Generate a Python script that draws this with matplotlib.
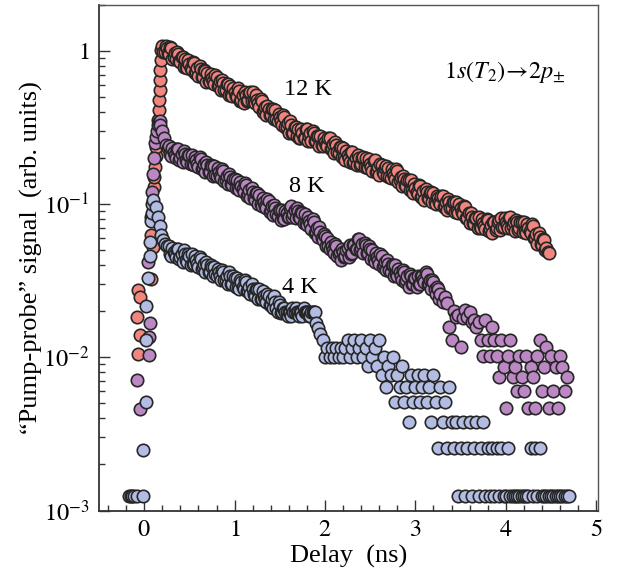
import numpy as np
import matplotlib
matplotlib.use("Agg")
import matplotlib.pyplot as plt
from matplotlib.ticker import FuncFormatter, LogLocator, MultipleLocator, FixedLocator, NullFormatter

plt.rcParams['font.family'] = ['Liberation Serif', 'DejaVu Serif']
plt.rcParams['mathtext.fontset'] = 'stix'

# ---------------- data ----------------
# rising edge, explicit points (delay in ns, signal in arb. units)
rise_delay_12K = [-0.075, -0.07, -0.065, -0.05, -0.045, 0.08, 0.08, 0.10, 0.09, 0.10,
                  0.11, 0.11, 0.12, 0.125, 0.13, 0.14, 0.15, 0.155, 0.16, 0.165,
                  0.17, 0.175, 0.18, 0.185, 0.19]
rise_signal_12K = [0.0183, 0.0105, 0.0274, 0.0139, 0.0249, 0.0327, 0.0627, 0.0525, 0.08, 0.10,
                   0.13, 0.15, 0.175, 0.205, 0.235, 0.27, 0.305, 0.354, 0.411, 0.478,
                   0.556, 0.646, 0.751, 0.873, 1.015]

rise_delay_8K = [-0.08, -0.045, 0.045, 0.05, 0.055, 0.06, 0.07, 0.09, 0.10, 0.11,
                 0.12, 0.13, 0.14, 0.15, 0.16, 0.17, 0.18, 0.20, 0.22, 0.24, 0.26]
rise_signal_8K = [0.0071, 0.0046, 0.042, 0.0135, 0.0103, 0.0167, 0.083, 0.12, 0.158, 0.20,
                  0.25, 0.275, 0.30, 0.33, 0.345, 0.35, 0.33, 0.30, 0.27, 0.245, 0.232]

rise_delay_4K = [-0.17, -0.15, -0.13, -0.11, -0.08, -0.015, -0.01, 0.015, 0.025, 0.025,
                 0.045, 0.06, 0.06, 0.08, 0.085, 0.09, 0.10, 0.13, 0.15, 0.17,
                 0.19, 0.21, 0.23, 0.25]
rise_signal_4K = [0.00125, 0.00125, 0.00125, 0.00125, 0.00125, 0.00125, 0.0025, 0.0051, 0.0129, 0.0218,
                  0.033, 0.046, 0.057, 0.078, 0.087, 0.10, 0.106, 0.096, 0.083, 0.072,
                  0.063, 0.058, 0.055, 0.053]

# decay part: scan A sampled every decay_step ns from decay_start,
# scan B (interleaved) sampled every decay_step ns from decay_start + decay_step/2
decay_step = 0.025
decay_start_12K = 0.20
decay_signal_12K = [
    1.08, 0.99, 1.04, 0.95, 1.04, 0.92, 0.89, 0.95, 0.85, 0.91,
    0.89, 0.77, 0.82, 0.75, 0.83, 0.73, 0.69, 0.76, 0.68, 0.74,
    0.72, 0.63, 0.67, 0.61, 0.68, 0.60, 0.56, 0.62, 0.56, 0.61,
    0.59, 0.51, 0.54, 0.50, 0.55, 0.48, 0.46, 0.52, 0.48, 0.54,
    0.54, 0.46, 0.48, 0.43, 0.47, 0.41, 0.38, 0.42, 0.38, 0.42,
    0.41, 0.35, 0.37, 0.33, 0.37, 0.32, 0.29, 0.33, 0.29, 0.32,
    0.31, 0.27, 0.29, 0.27, 0.31, 0.28, 0.26, 0.29, 0.26, 0.28,
    0.28, 0.24, 0.255, 0.24, 0.27, 0.233, 0.216, 0.242, 0.216, 0.235,
    0.232, 0.195, 0.209, 0.19, 0.22, 0.189, 0.179, 0.20, 0.182, 0.203,
    0.20, 0.172, 0.184, 0.166, 0.193, 0.165, 0.156, 0.179, 0.158, 0.177,
    0.173, 0.149, 0.161, 0.147, 0.165, 0.143, 0.132, 0.147, 0.132, 0.143,
    0.143, 0.119, 0.128, 0.117, 0.132, 0.114, 0.107, 0.121, 0.108, 0.12,
    0.119, 0.10, 0.109, 0.10, 0.113, 0.098, 0.092, 0.104, 0.094, 0.104,
    0.104, 0.087, 0.094, 0.086, 0.096, 0.081, 0.075, 0.083, 0.074, 0.081,
    0.082, 0.07, 0.075, 0.069, 0.079, 0.069, 0.065, 0.076, 0.07, 0.079,
    0.081, 0.071, 0.077, 0.07, 0.083, 0.072, 0.067, 0.076, 0.07, 0.077,
    0.077, 0.065, 0.07, 0.065, 0.072, 0.06, 0.055, 0.061, 0.054, 0.058,
    0.052, 0.048]
decay_signal_12K_b = [
    0.98, 1.08, 0.97, 1.07, 0.89, 0.97, 0.99, 0.86, 0.92, 0.79,
    0.79, 0.87, 0.78, 0.85, 0.72, 0.77, 0.80, 0.68, 0.75, 0.63,
    0.64, 0.71, 0.64, 0.70, 0.59, 0.64, 0.65, 0.56, 0.61, 0.52,
    0.52, 0.57, 0.51, 0.57, 0.47, 0.52, 0.54, 0.47, 0.53, 0.47,
    0.47, 0.52, 0.46, 0.49, 0.40, 0.43, 0.44, 0.38, 0.42, 0.36,
    0.36, 0.39, 0.35, 0.38, 0.32, 0.34, 0.35, 0.29, 0.32, 0.28,
    0.27, 0.31, 0.27, 0.31, 0.26, 0.29, 0.30, 0.26, 0.28, 0.24,
    0.245, 0.27, 0.243, 0.27, 0.228, 0.247, 0.254, 0.219, 0.236, 0.202,
    0.202, 0.223, 0.199, 0.218, 0.186, 0.201, 0.211, 0.181, 0.20, 0.175,
    0.174, 0.196, 0.175, 0.191, 0.163, 0.175, 0.184, 0.162, 0.173, 0.152,
    0.15, 0.17, 0.153, 0.169, 0.14, 0.151, 0.154, 0.133, 0.144, 0.123,
    0.124, 0.136, 0.121, 0.134, 0.112, 0.122, 0.125, 0.109, 0.119, 0.103,
    0.103, 0.114, 0.104, 0.114, 0.096, 0.104, 0.108, 0.094, 0.103, 0.089,
    0.09, 0.10, 0.089, 0.098, 0.081, 0.087, 0.087, 0.075, 0.081, 0.07,
    0.071, 0.08, 0.072, 0.08, 0.067, 0.073, 0.077, 0.068, 0.077, 0.068,
    0.071, 0.081, 0.073, 0.081, 0.07, 0.076, 0.079, 0.068, 0.077, 0.066,
    0.067, 0.074, 0.067, 0.074, 0.06, 0.064, 0.065, 0.055, 0.059, 0.05,
    0.049]

decay_start_8K = 0.275
decay_signal_8K = [
    0.24, 0.207, 0.22, 0.20, 0.228, 0.20, 0.19, 0.212, 0.19, 0.21,
    0.21, 0.18, 0.193, 0.176, 0.198, 0.172, 0.162, 0.181, 0.162, 0.177,
    0.177, 0.152, 0.163, 0.148, 0.166, 0.144, 0.135, 0.15, 0.134, 0.147,
    0.145, 0.124, 0.132, 0.12, 0.134, 0.116, 0.109, 0.121, 0.107, 0.118,
    0.115, 0.098, 0.104, 0.094, 0.105, 0.091, 0.085, 0.095, 0.084, 0.092,
    0.092, 0.08, 0.088, 0.083, 0.097, 0.086, 0.081, 0.09, 0.081, 0.088,
    0.086, 0.073, 0.078, 0.069, 0.076, 0.066, 0.061, 0.066, 0.058, 0.062,
    0.06, 0.051, 0.053, 0.048, 0.053, 0.047, 0.043, 0.049, 0.046, 0.052,
    0.054, 0.048, 0.054, 0.051, 0.059, 0.052, 0.048, 0.054, 0.048, 0.051,
    0.05, 0.042, 0.045, 0.041, 0.046, 0.04, 0.037, 0.041, 0.036, 0.04,
    0.04, 0.034, 0.036, 0.032, 0.036, 0.032, 0.029, 0.034, 0.03, 0.033,
    0.034, 0.03, 0.034, 0.031, 0.035, 0.03, 0.028, 0.031, 0.026, 0.028,
    0.026, 0.023, 0.0249, 0.0225, 0.0158, 0.0129, 0.020, 0.0183, 0.019, 0.0117,
    0.018, 0.0203, 0.0183, 0.0198, 0.0171, 0.0175, 0.0158, 0.0171, 0.0129, 0.0102,
    0.0175, 0.0129, 0.0102, 0.0158, 0.0129, 0.0102, 0.0074, 0.0129, 0.0087, 0.0047,
    0.0102, 0.0129, 0.0074, 0.0087, 0.0060, 0.0102, 0.0074, 0.0060, 0.0102, 0.0047,
    0.0087, 0.0074, 0.0047, 0.0102, 0.0129, 0.0060, 0.0087, 0.0117, 0.0047, 0.0102,
    0.0060, 0.0087, 0.0047, 0.0102, 0.0087, 0.0060, 0.0074]
decay_signal_8K_b = [
    0.212, 0.233, 0.209, 0.231, 0.195, 0.213, 0.221, 0.193, 0.21, 0.182,
    0.184, 0.204, 0.183, 0.202, 0.169, 0.183, 0.189, 0.163, 0.179, 0.154,
    0.155, 0.172, 0.154, 0.169, 0.141, 0.153, 0.158, 0.136, 0.147, 0.127,
    0.127, 0.14, 0.125, 0.137, 0.114, 0.124, 0.127, 0.109, 0.118, 0.101,
    0.101, 0.11, 0.098, 0.108, 0.089, 0.097, 0.099, 0.086, 0.092, 0.079,
    0.081, 0.09, 0.083, 0.095, 0.083, 0.092, 0.095, 0.082, 0.089, 0.075,
    0.075, 0.083, 0.074, 0.08, 0.065, 0.07, 0.071, 0.06, 0.064, 0.053,
    0.053, 0.057, 0.05, 0.055, 0.046, 0.049, 0.051, 0.045, 0.05, 0.045,
    0.047, 0.054, 0.051, 0.059, 0.05, 0.055, 0.056, 0.048, 0.053, 0.044,
    0.044, 0.048, 0.043, 0.047, 0.039, 0.042, 0.043, 0.037, 0.04, 0.034,
    0.035, 0.038, 0.034, 0.037, 0.031, 0.034, 0.035, 0.03, 0.033, 0.029,
    0.03, 0.034, 0.032, 0.036, 0.03, 0.032, 0.032, 0.028, 0.029, 0.024]

decay_start_4K = 0.275
decay_signal_4K = [
    0.053, 0.046, 0.049, 0.045, 0.051, 0.045, 0.042, 0.047, 0.042, 0.046,
    0.047, 0.041, 0.043, 0.039, 0.044, 0.039, 0.036, 0.04, 0.036, 0.039,
    0.039, 0.034, 0.036, 0.032, 0.036, 0.032, 0.03, 0.034, 0.03, 0.033,
    0.033, 0.028, 0.031, 0.028, 0.031, 0.027, 0.026, 0.028, 0.025, 0.028,
    0.028, 0.024, 0.025, 0.023, 0.025, 0.022, 0.021, 0.023, 0.0198, 0.022,
    0.0198, 0.021, 0.0198, 0.0198, 0.0186, 0.0198, 0.021, 0.0198, 0.0198, 0.0186,
    0.0198, 0.0198, 0.0186, 0.0198, 0.0198, 0.0167, 0.0155, 0.0143, 0.013, 0.0101,
    0.0115, 0.0101, 0.0115, 0.0101, 0.0115, 0.0101, 0.0115, 0.0101, 0.0115, 0.013,
    0.0101, 0.0115, 0.013, 0.0101, 0.0115, 0.013, 0.0101, 0.0115, 0.0088, 0.013,
    0.0101, 0.0115, 0.0088, 0.013, 0.0077, 0.0101, 0.0064, 0.0088, 0.0077, 0.0101,
    0.0051, 0.0077, 0.0064, 0.0088, 0.0051, 0.0064, 0.0038, 0.0077, 0.0051, 0.0064,
    0.0077, 0.0051, 0.0064, 0.0077, 0.0051, 0.0064, 0.0038, 0.0077, 0.0051, 0.00255,
    0.0064, 0.0038, 0.0051, 0.00255, 0.0064, 0.0038, 0.00255, 0.0038, 0.00125, 0.00255,
    0.0038, 0.00125, 0.00255, 0.0038, 0.00125, 0.00255, 0.0038, 0.00125, 0.00255, 0.0038,
    0.00125, 0.00255, 0.00125, 0.00255, 0.00125, 0.00255, 0.00125, 0.00255, 0.00125, 0.00125,
    0.00255, 0.00125, 0.00125, 0.00125, 0.00125, 0.00125, 0.00125, 0.00125, 0.00125, 0.00125,
    0.00255, 0.00125, 0.00255, 0.00125, 0.00255, 0.00125, 0.00125, 0.00125, 0.00125, 0.00125,
    0.00125, 0.00125, 0.00125, 0.00125, 0.00125, 0.00125, 0.00125, 0.00125]
decay_signal_4K_b = [
    0.047, 0.052, 0.047, 0.051, 0.044, 0.047, 0.05, 0.043, 0.047, 0.04,
    0.041, 0.046, 0.041, 0.045, 0.038, 0.041, 0.042, 0.036, 0.04, 0.034,
    0.035, 0.038, 0.034, 0.037, 0.032, 0.034, 0.036, 0.03, 0.034, 0.029,
    0.029, 0.032, 0.029, 0.032, 0.027, 0.029, 0.03, 0.026, 0.028, 0.024,
    0.024, 0.027, 0.024, 0.026, 0.022, 0.024, 0.025, 0.021, 0.023, 0.0195,
    0.021, 0.0198, 0.0186, 0.0198, 0.021, 0.0198, 0.0198, 0.0186, 0.0198, 0.021,
    0.0198, 0.0198, 0.0186, 0.0198, 0.0198]

series_labels = ['12 K', '8 K', '4 K']
series_colors = ['#f2867f', '#bb88c4', '#b3bde4']
label_pos = [(1.81, 0.56), (1.80, 0.131), (1.72, 0.0287)]
transition_label = r'$1s(T_2)\!\rightarrow\!2p_{\pm}$'
x_ticks = [0, 1, 2, 3, 4, 5]

# ---------------- figure ----------------
fig = plt.figure(figsize=(6.17, 5.79), dpi=100)
ax = fig.add_axes([0.1605, 0.1183, 0.8087, 0.8731])

series = [
    (rise_delay_12K, rise_signal_12K, decay_start_12K, decay_signal_12K, decay_signal_12K_b),
    (rise_delay_8K, rise_signal_8K, decay_start_8K, decay_signal_8K, decay_signal_8K_b),
    (rise_delay_4K, rise_signal_4K, decay_start_4K, decay_signal_4K, decay_signal_4K_b),
]
for (rd, rs, d0, ds, dsb), col in zip(series, series_colors):
    dd = d0 + decay_step * np.arange(len(ds))
    ddb = d0 + decay_step / 2 + decay_step * np.arange(len(dsb))
    x = np.concatenate([np.asarray(rd), dd, ddb])
    y = np.concatenate([np.asarray(rs), np.asarray(ds), np.asarray(dsb)])
    order = np.argsort(x, kind='stable')
    ax.scatter(x[order], y[order], s=80, facecolor=col, edgecolor='#262626',
               linewidths=1.2, zorder=3)

ax.set_yscale('log')
ax.set_xlim(-0.5, 5.02)
ax.set_ylim(1e-3, 2.0)

ax.xaxis.set_major_locator(FixedLocator(x_ticks))
ax.xaxis.set_minor_locator(MultipleLocator(0.2))
ax.yaxis.set_major_locator(LogLocator(base=10, numticks=10))
ax.yaxis.set_minor_locator(LogLocator(base=10, subs=np.arange(2, 10), numticks=20))

def yfmt(v, pos):
    e = int(round(np.log10(v)))
    return r'$1$' if e == 0 else r'$10^{%d}$' % e

ax.yaxis.set_major_formatter(FuncFormatter(yfmt))
ax.yaxis.set_minor_formatter(NullFormatter())
ax.xaxis.set_major_formatter(FuncFormatter(lambda v, p: r'$%d$' % v))

ax.tick_params(which='both', direction='in', top=False, right=False, color='#333333',
               labelsize=17.5, width=1.0)
ax.tick_params(which='major', length=8, pad=7)
ax.tick_params(which='minor', length=4.5)

for s in ['left', 'bottom']:
    ax.spines[s].set_linewidth(1.3)
    ax.spines[s].set_color('#333333')
for s in ['right', 'top']:
    ax.spines[s].set_linewidth(1.0)
    ax.spines[s].set_color('#555555')

ax.set_xlabel('Delay  (ns)', fontsize=19, labelpad=3)
ax.set_ylabel('\u201cPump-probe\u201d signal  (arb. units)', fontsize=19, labelpad=0)

for lab, (lx, ly) in zip(series_labels, label_pos):
    ax.text(lx, ly, lab, fontsize=17.5, ha='center', va='center', zorder=5)
ax.text(3.32, 0.73, transition_label, fontsize=17.5, ha='left', va='center', zorder=5)

fig.savefig('out.png', dpi=100)
